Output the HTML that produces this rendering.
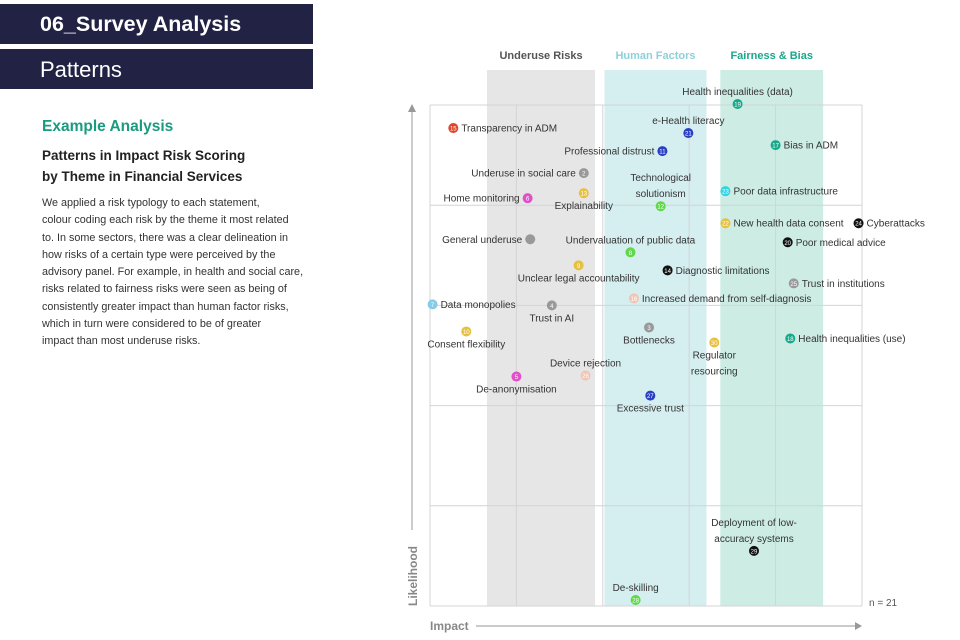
<!DOCTYPE html>
<html><head><meta charset="utf-8"><style>
body{margin:0;width:960px;height:640px;background:#fff;font-family:"Liberation Sans",sans-serif;position:relative;overflow:hidden}
.bar{position:absolute;left:0;width:313px;background:#222245;color:#fff}
.p{position:absolute;left:42px;color:#333}
</style></head><body>
<div class="bar" style="top:4px;height:40px"><div style="position:absolute;left:40px;top:8px;font-size:21.5px;font-weight:bold">06_Survey Analysis</div></div>
<div class="bar" style="top:49px;height:40px"><div style="position:absolute;left:40px;top:8px;font-size:22px">Patterns</div></div>
<div class="p" style="top:118px;font-size:15.5px;font-weight:bold;color:#1a9a7e">Example Analysis</div>
<div class="p" style="top:145px;font-size:13.5px;font-weight:bold;line-height:21px;color:#222">Patterns in Impact Risk Scoring<br>by Theme in Financial Services</div>
<div class="p" style="top:195px;font-size:10.8px;line-height:17.3px;white-space:nowrap;color:#333">We applied a risk typology to each statement,<br>colour coding each risk by the theme it most related<br>to. In some sectors, there was a clear delineation in<br>how risks of a certain type were perceived by the<br>advisory panel. For example, in health and social care,<br>risks related to fairness risks were seen as being of<br>consistently greater impact than human factor risks,<br>which in turn were considered to be of greater<br>impact than most underuse risks.</div>
<svg id="chart" width="960" height="640" style="position:absolute;left:0;top:0"></svg>
<script>
const names=["Transparency in ADM","e-Health literacy","Professional distrust","Health inequalities (data)","Bias in ADM","Underuse in social care","Explainability","Home monitoring","Technological|solutionism","Poor data infrastructure","New health data consent","Cyberattacks","Poor medical advice","General underuse","Undervaluation of public data","Unclear legal accountability","Diagnostic limitations","Trust in institutions","Increased demand from self-diagnosis","Data monopolies","Trust in AI","Consent flexibility","Bottlenecks","Regulator|resourcing","Health inequalities (use)","Device rejection","De-anonymisation","Excessive trust","Deployment of low-|accuracy systems","De-skilling"];
const ids=["15","21","11","19","17","2","13","6","12","23","22","24","20","","8","9","14","25","16","7","4","10","3","30","18","26","5","27","29","28"];
const impact=[0.27,2.99,2.69,3.56,4.0,1.78,1.78,1.13,2.67,3.42,3.42,4.96,4.14,1.16,2.32,1.72,2.75,4.21,2.36,0.03,1.41,0.42,2.535,3.29,4.17,1.8,1.0,2.55,3.75,2.38];
const likelihood=[4.77,4.72,4.54,5.01,4.6,4.32,4.12,4.07,3.99,4.14,3.82,3.82,3.63,3.66,3.53,3.4,3.35,3.22,3.07,3.01,3.0,2.74,2.78,2.63,2.67,2.3,2.29,2.1,0.55,0.06];
const themes=["red","blue","blue","teal","teal","grey","yellow","magenta","green","cyan","yellow","black","black","grey","green","yellow","black","grey","pink","lblue","grey","yellow","grey","yellow","teal","pink","magenta","blue","black","green"];
const bandNames=["Underuse Risks","Human Factors","Fairness & Bias"];
const bandStart=[0.66,2.02,3.36];
const bandEnd=[1.91,3.2,4.55];
const gridX=[0,1,2,3,4,5];
const gridY=[0,1,2,3,4,5];
const pos=["r","t","l","t","r","l","b","l","t","r","r","r","r","l","t","b","r","r","r","r","b","b","b","b","r","t","b","b","t","t"];
const colors={red:"#e0452a",blue:"#2b3fc4",teal:"#1aa88a",grey:"#999",yellow:"#e8c040",magenta:"#e050c8",green:"#5fd84a",cyan:"#30d4e4",black:"#111",pink:"#f2c4b4",lblue:"#86cbe8"};
const bandFill=["#e6e6e6","#d5eef0","#cdece4"],bandText=["#555","#8fd0d8","#1aa88a"];
const X0=430,X1=862,Y0=606,Y1=105;
const sx=v=>X0+(X1-X0)*v/5, sy=v=>Y0-(Y0-Y1)*v/5;
const svg=document.getElementById('chart'),NS="http://www.w3.org/2000/svg";
function mk(t,a,txt){const e=document.createElementNS(NS,t);for(const k in a)e.setAttribute(k,a[k]);if(txt!=null)e.textContent=txt;svg.appendChild(e);return e;}
bandNames.forEach((b,i)=>{
 const r=mk('rect',{x:sx(bandStart[i]),y:70,width:sx(bandEnd[i])-sx(bandStart[i]),height:Y0-70,fill:bandFill[i]});
 
 
 const t=mk('text',{x:(sx(bandStart[i])+sx(bandEnd[i]))/2,y:59,'text-anchor':'middle','font-size':11,'font-weight':'bold',fill:bandText[i]},b);
 
 
});
gridX.forEach(v=>{const l=mk('line',{x1:sx(v),x2:sx(v),y1:Y1,y2:Y0,stroke:'#d4d4d4','stroke-width':1});
 
 });
gridY.forEach(v=>{const l=mk('line',{x1:X0,x2:X1,y1:sy(v),y2:sy(v),stroke:'#d4d4d4','stroke-width':1});
 
 });
const ya=mk('line',{x1:412,x2:412,y1:112,y2:530,stroke:'#aaa','stroke-width':1.2});


mk('path',{d:'M408,112 L412,104 L416,112 Z',fill:'#999'});
const yt=mk('text',{x:0,y:0,transform:'translate(417,606) rotate(-90)','font-size':12,'font-weight':'bold',fill:'#888'},'Likelihood');


const xa=mk('line',{x1:476,x2:855,y1:626,y2:626,stroke:'#aaa','stroke-width':1.2});


mk('path',{d:'M855,622 L862,626 L855,630 Z',fill:'#999'});
const xt=mk('text',{x:430,y:630,'font-size':12,'font-weight':'bold',fill:'#888'},'Impact');


const nt=mk('text',{x:869,y:606,'font-size':10,fill:'#555'},'n = 21');


names.forEach((n,i)=>{
 const cx=sx(impact[i]),cy=sy(likelihood[i]);
 const c=mk('circle',{cx:cx,cy:cy,r:5,fill:colors[themes[i]]});
 
 
 if(ids[i]){const t=mk('text',{x:cx,y:cy+2.5,'text-anchor':'middle','font-size':6,fill:'#fff'},ids[i]);
  
  }
 const lines=n.split('|'),p=pos[i];
 lines.forEach((ln,j)=>{
  let x=cx,y=cy+3.5,a='middle';
  if(p==='r'){x=cx+8;a='start';}
  if(p==='l'){x=cx-8;a='end';}
  if(p==='t'){y=cy-9-(lines.length-1-j)*16;}
  if(p==='b'){y=cy+16+j*16;}
  const t=mk('text',{x:x,y:y,'text-anchor':a,'font-size':10,fill:'#333'},ln);
  
  
 });
});
</script>
</body></html>
